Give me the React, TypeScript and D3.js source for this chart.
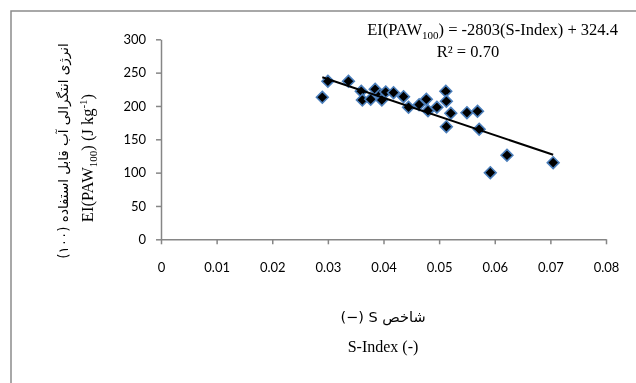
import { useRef, useEffect } from 'react';
import * as d3 from 'd3';

// S-Index vs EI(PAW100)
const sIndex = [0.0290, 0.0300, 0.0337, 0.0360, 0.0362, 0.0377, 0.0385, 0.0394, 0.0397, 0.0404,
  0.0418, 0.0436, 0.0445, 0.0464, 0.0477, 0.0480, 0.0496, 0.0512, 0.0513, 0.0521,
  0.0513, 0.0550, 0.0569, 0.0572, 0.0622, 0.0592, 0.0705];
const eiPaw = [213, 237, 237, 222, 209, 210, 225, 217, 209, 221,
  220, 214, 198, 202, 210, 193, 198, 222, 207, 189,
  169, 190, 192, 165, 126, 100, 115];

const xTicks = [0, 0.01, 0.02, 0.03, 0.04, 0.05, 0.06, 0.07, 0.08];
const yTicks = [0, 50, 100, 150, 200, 250, 300];

const slope = -2803;
const intercept = 324.4;

export default function App() {
  const svgRef = useRef<SVGSVGElement>(null);

  useEffect(() => {
    const svg = d3.select(svgRef.current);
    svg.selectAll('*').remove();

    const x = d3.scaleLinear().domain([0, 0.08]).range([161, 606]);
    const y = d3.scaleLinear().domain([0, 300]).range([239.3, 39.3]);
    const axisColor = '#868686';
    const tickFont = 'Lato, "Liberation Sans", sans-serif';

    // outer frame
    svg.append('path')
      .attr('d', 'M11,383 L11,11 L636,11')
      .attr('fill', 'none')
      .attr('stroke', '#8c8c8c')
      .attr('stroke-width', 1.5);

    // y axis
    const yAxis = svg.append('g')
      .attr('transform', 'translate(161,0)')
      .call(d3.axisLeft(y).tickValues(yTicks).tickSize(5).tickSizeOuter(0).tickPadding(10));
    yAxis.select('.domain').attr('stroke', axisColor).attr('stroke-width', 1.5);
    yAxis.selectAll('.tick line').attr('stroke', axisColor).attr('stroke-width', 1.5);
    yAxis.selectAll('.tick text')
      .attr('fill', '#000')
      .style('font-family', tickFont)
      .style('font-size', '13px');

    // x axis
    const xAxis = svg.append('g')
      .attr('transform', 'translate(0,239.3)')
      .call(d3.axisBottom(x).tickValues(xTicks).tickSize(5).tickSizeOuter(0).tickPadding(18)
        .tickFormat(d => String(+d)));
    xAxis.select('.domain').attr('stroke', axisColor).attr('stroke-width', 1.5);
    xAxis.selectAll('.tick line').attr('stroke', axisColor).attr('stroke-width', 1.5);
    xAxis.selectAll('.tick text')
      .attr('fill', '#000')
      .style('font-family', tickFont)
      .style('font-size', '13px');

    // points
    const pts = d3.range(sIndex.length).map(i => ({ s: sIndex[i], e: eiPaw[i] }));
    const diamond = d3.symbol().type(d3.symbolDiamond2).size(88);
    svg.append('g')
      .selectAll('path')
      .data(pts)
      .join('path')
      .attr('d', diamond)
      .attr('transform', d => 'translate(' + x(d.s) + ',' + y(d.e) + ')')
      .attr('fill', '#000')
      .attr('stroke', '#4a7ebb')
      .attr('stroke-width', 1.6);

    // linear trend line
    const [sMin, sMax] = d3.extent(sIndex) as [number, number];
    svg.append('line')
      .attr('x1', x(sMin)).attr('y1', y(slope * sMin + intercept))
      .attr('x2', x(sMax)).attr('y2', y(slope * sMax + intercept))
      .attr('stroke', '#000')
      .attr('stroke-width', 2);
  }, []);

  const serif = '"Liberation Serif", "Times New Roman", serif';
  const farsi = '"DejaVu Sans", sans-serif';

  return (
    <div style={{ position: 'fixed', left: 0, top: 0 }}>
      <svg ref={svgRef} width={636} height={383} style={{ display: 'block', position: 'absolute', left: 0, top: 0 }} />
      <svg width={636} height={383} style={{ display: 'block', position: 'absolute', left: 0, top: 0 }}>
        {/* regression equation */}
        <text x={618} y={35} textAnchor="end" fontFamily={serif} fontSize={16.5} fill="#000">
          EI(PAW<tspan fontSize={11} dy={4}>100</tspan><tspan dy={-4}>) = -2803(S-Index) + 324.4</tspan>
        </text>
        <text x={468} y={57} textAnchor="middle" fontFamily={serif} fontSize={16.5} fill="#000">
          R² = 0.70
        </text>

        {/* y axis title */}
        <text transform="translate(68,151) rotate(-90)" textAnchor="middle" direction="rtl"
          fontFamily={farsi} fontSize={13.5} fill="#000">
          انرژی انتگرالی آب قابل استفاده (۱۰۰)
        </text>
        <text transform="translate(93,158) rotate(-90)" textAnchor="middle"
          fontFamily={serif} fontSize={16.5} fill="#000">
          EI(PAW<tspan fontSize={11} dy={4}>100</tspan><tspan dy={-4}>) (J kg</tspan><tspan fontSize={11} dy={-6}>-1</tspan><tspan dy={6}>)</tspan>
        </text>

        {/* x axis title */}
        <text x={383} y={322} textAnchor="middle" direction="rtl"
          fontFamily={farsi} fontSize={14.5} fill="#000">
          شاخص S (−)
        </text>
        <text x={383} y={352} textAnchor="middle" fontFamily={serif} fontSize={16} fill="#000">
          S-Index (-)
        </text>
      </svg>
    </div>
  );
}
